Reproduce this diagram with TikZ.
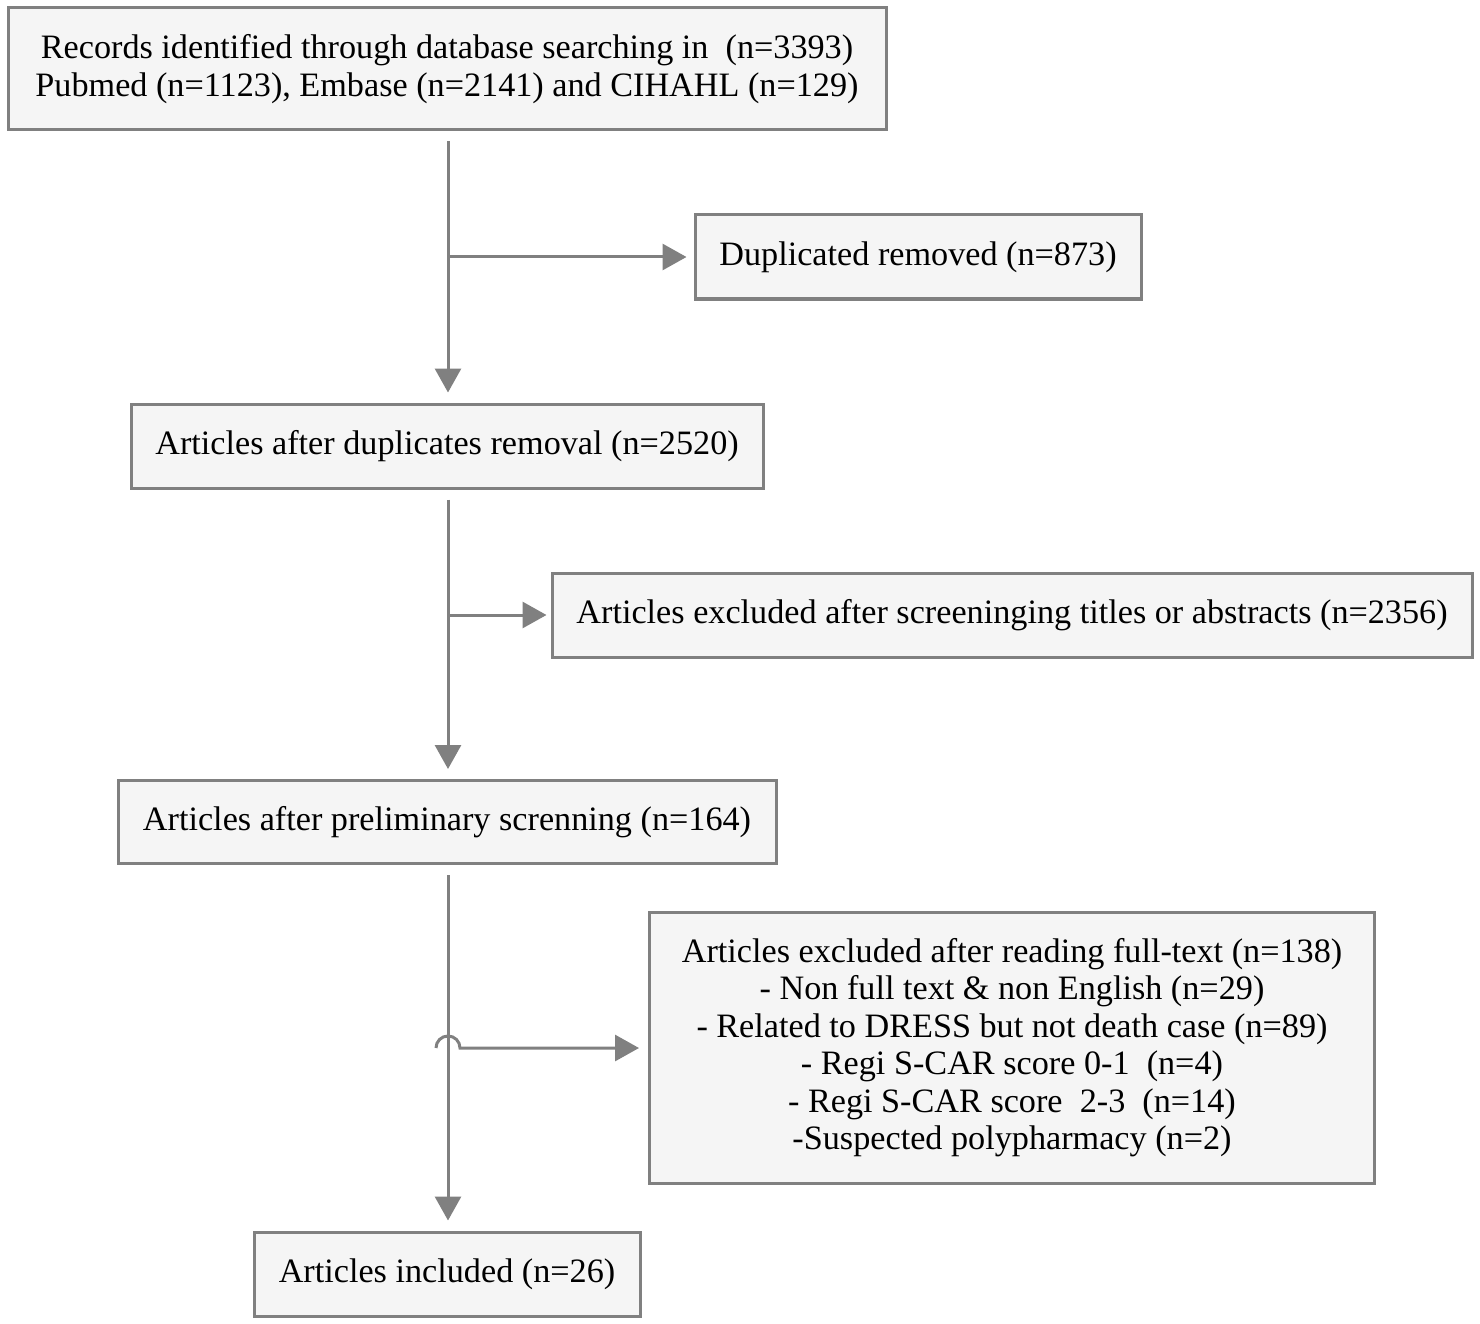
\documentclass[tikz,border=0pt]{standalone}
\usepackage{fontspec}
\setmainfont{Liberation Serif}
\usetikzlibrary{arrows.meta}
\definecolor{lc}{HTML}{808080}
\definecolor{bf}{HTML}{F5F5F5}
\begin{document}
\begin{tikzpicture}[x=1pt,y=-1pt,
  box/.style={draw=lc,line width=3pt,fill=bf,inner sep=0pt,align=center,
    font=\fontsize{34.2}{37.5}\selectfont},
  conn/.style={draw=lc,line width=3pt,-{Triangle[length=24pt,width=26pt]}}]
\useasboundingbox (0,0) rectangle (1480,1324);
\node[box,minimum width=878pt,minimum height=122pt] (rec) at (447,69)
  {Records identified through database searching in ~(n=3393)\\Pubmed (n=1123), Embase (n=2141) and CIHAHL (n=129)};
\node[box,minimum width=446pt,minimum height=84pt] (dup) at (918,257)
  {Duplicated removed (n=873)};
\node[box,minimum width=632pt,minimum height=84pt] (art1) at (447,446)
  {Articles after duplicates removal (n=2520)};
\node[box,minimum width=920pt,minimum height=84pt] (exc1) at (1012,615)
  {Articles excluded after screeninging titles or abstracts (n=2356)};
\node[box,minimum width=658pt,minimum height=83pt] (art2) at (447,822)
  {Articles after preliminary screnning (n=164)};
\node[box,minimum width=725pt,minimum height=271pt] (exc2) at (1012,1047.5)
  {Articles excluded after reading full-text (n=138)\\
   - Non full text \& non English (n=29)\\
   - Related to DRESS but not death case (n=89)\\
   - Regi S-CAR score 0-1 ~(n=4)\\
   - Regi S-CAR score ~2-3 ~(n=14)\\
   -Suspected polypharmacy (n=2)};
\node[box,minimum width=386pt,minimum height=84pt] (inc) at (447,1274)
  {Articles included (n=26)};
\coordinate (j1) at (448,257);
\coordinate (j2) at (448,615);
\coordinate (j3) at (436,1048);
\draw[conn,shorten <=10pt,shorten >=10pt] (rec.south -| 448,0) -- (art1.north -| 448,0);
\draw[conn,shorten >=7pt] (j1) -- (dup.west);
\draw[conn,shorten <=10pt,shorten >=10pt] (art1.south -| 448,0) -- (art2.north -| 448,0);
\draw[conn,shorten >=4pt] (j2) -- (exc1.west);
\draw[conn,shorten <=10pt,shorten >=10pt] (art2.south -| 448,0) -- (inc.north -| 448,0);
\draw[conn,shorten >=9pt] (j3) arc[start angle=180,end angle=0,radius=12pt] -- (exc2.west |- j3);
\end{tikzpicture}
\end{document}
